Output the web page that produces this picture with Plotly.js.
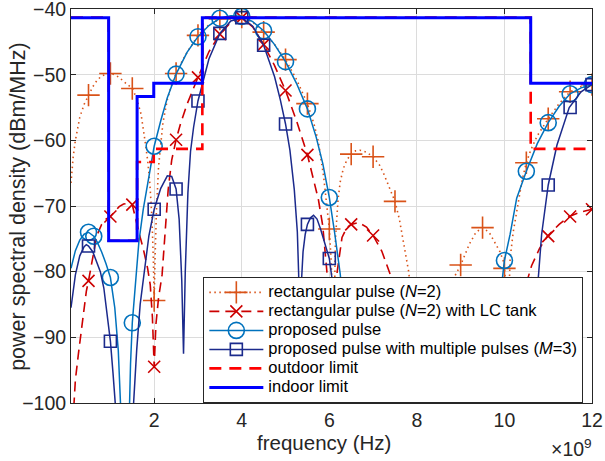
<!DOCTYPE html>
<html>
<head>
<meta charset="utf-8">
<script src="https://cdn.plot.ly/plotly-3.0.1.min.js"></script>
<style>html,body{margin:0;padding:0;background:#fff;}#chart{width:605px;height:461px;}</style>
</head>
<body>
<div id="chart"></div>
<script>
// ---- Data (frequency in GHz, PSD in dBm/MHz) ----
const xTickVals = [2, 4, 6, 8, 10, 12];
const xTickText = ['2', '4', '6', '8', '10', '12'];
const yTickVals = [-100, -90, -80, -70, -60, -50, -40];

// rectangular pulse (N=2)
const rectFreq = [0.1,0.15,0.2,0.3,0.4,0.5,0.6,0.7,0.8,0.9,1.0,1.1,1.2,1.3,1.4,1.5,1.6,1.7,1.8,1.85,1.9,1.95,1.98,2.0,2.02,2.05,2.1,2.15,2.2,2.3,2.4,2.5,2.6,2.75,3.0,3.25,3.5,3.75,4.0,4.25,4.5,4.75,5.0,5.25,5.5,5.65,5.75,5.87,5.95,6.0,6.04,6.07,6.09,6.11,6.14,6.2,6.25,6.32,6.4,6.5,6.6,6.7,6.85,7.0,7.15,7.25,7.4,7.5,7.6,7.7,7.81,7.9,8.0,8.1,8.2,8.3,8.45,8.6,8.8,9.0,9.2,9.35,9.5,9.65,9.8,9.9,9.98,10.0,10.03,10.07,10.1,10.13,10.2,10.28,10.4,10.5,10.6,10.75,11.0,11.25,11.5,11.75,12.0];
const rectPsd  = [-66.5,-62.5,-60,-56.5,-54.5,-53.1,-51.8,-50.8,-50.2,-49.9,-49.8,-50.0,-50.4,-51.0,-51.5,-52.1,-53.6,-56.0,-60.5,-63,-66.5,-72,-78,-84.4,-78,-71,-64,-60,-57.3,-53.8,-51.5,-49.8,-48.4,-46.6,-44.0,-42.4,-41.5,-41.2,-41.2,-42.0,-43.5,-45.4,-47.7,-50.7,-54.4,-57.5,-60.2,-65.5,-70,-73.5,-78,-84,-95,-84,-75,-69,-66.3,-64.3,-63.0,-62.1,-61.6,-61.5,-61.8,-62.5,-63.8,-65.2,-67.5,-69.3,-72,-75.5,-79.9,-85,-92,-102,-108,-98,-90,-85.5,-81.5,-79.0,-75.8,-74.0,-73.3,-74.0,-75.8,-77,-78.5,-79.5,-82,-92,-84,-78,-74,-70.8,-66.2,-63.4,-61.5,-59.3,-56.7,-54.4,-52.6,-51.8,-51.5];
const rectMarkFreq = [0.5,1.0,1.5,2.0,2.5,3.0,3.5,4.0,4.5,5.0,5.5,6.0,6.5,7.0,7.5,8.0,8.5,9.0,9.5,10.0,10.5,11.0,11.5,12.0];
const rectMarkPsd  = [-53.1,-49.8,-52.1,-84.4,-49.8,-44.0,-41.5,-41.2,-43.5,-47.7,-54.4,-73.5,-62.1,-62.5,-69.3,-92,-88,-79.0,-73.3,-79.5,-63.4,-56.7,-52.6,-51.5];

// rectangular pulse (N=2) with LC tank
const lcFreq = [0.1,0.16,0.2,0.27,0.33,0.39,0.45,0.5,0.6,0.69,0.8,0.9,1.0,1.1,1.2,1.3,1.4,1.5,1.57,1.65,1.75,1.85,1.91,1.96,2.0,2.04,2.1,2.18,2.25,2.32,2.4,2.5,2.6,2.75,3.0,3.25,3.5,3.75,4.0,4.25,4.5,4.75,5.0,5.25,5.5,5.6,5.75,5.85,5.95,6.0,6.03,6.1,6.18,6.29,6.4,6.5,6.67,6.85,7.0,7.2,7.39,7.6,7.8,7.9,8.1,8.3,8.5,8.7,8.85,9.0,9.2,9.5,9.7,9.9,10.2,10.45,10.5,10.62,10.8,10.98,11.25,11.48,11.75,12.0];
const lcPsd  = [-108,-99.8,-96.5,-92.5,-89,-86,-83,-81.4,-77.5,-74.5,-72.8,-72,-71.6,-70.8,-70.1,-69.7,-69.6,-69.8,-72.0,-74,-76.5,-79.5,-82,-87,-94.5,-88,-84,-80.5,-74,-67.5,-63,-59.9,-57.5,-54.5,-50.4,-46.5,-43.8,-42.0,-41.3,-42.7,-45.4,-48.6,-52.4,-57.0,-62.2,-64.8,-69.0,-73,-80.4,-88,-105,-88,-80,-74.8,-73.3,-72.8,-72.5,-73.2,-74.5,-76.9,-80.4,-88,-98,-108,-100,-94,-92,-95,-100,-108,-104,-108,-110,-100,-89,-82.5,-81.8,-79.1,-76.5,-74.6,-72.8,-71.6,-70.9,-70.5];
const lcMarkFreq = [0.5,1.0,1.5,2.0,2.5,3.0,3.5,4.0,4.5,5.0,5.5,6.0,6.5,7.0,7.5,8.0,8.5,9.0,9.5,10.0,10.5,11.0,11.5,12.0];
const lcMarkPsd  = [-81.4,-71.6,-69.8,-94.5,-59.9,-50.4,-43.8,-41.3,-45.4,-52.4,-62.2,-88,-72.8,-74.5,-84,-104,-92,-108,-108,-96,-81.8,-74.6,-71.6,-70.5];

// proposed pulse
const propFreq = [0.1,0.2,0.3,0.4,0.5,0.62,0.7,0.8,0.9,1.0,1.1,1.18,1.23,1.28,1.35,1.42,1.46,1.5,1.57,1.65,1.75,1.85,2.0,2.15,2.3,2.5,2.75,3.0,3.25,3.5,3.75,4.0,4.25,4.5,4.75,5.0,5.25,5.5,5.7,5.85,6.0,6.12,6.25,6.35,6.47,6.55,6.7,6.87,7.1,7.35,7.6,7.85,8.0,8.3,8.6,9.0,9.3,9.6,9.8,9.9,9.95,10.0,10.13,10.28,10.5,10.75,11.0,11.25,11.5,11.75,12.0];
const propPsd  = [-79.5,-76.8,-75.2,-74.3,-74.0,-74.6,-75.5,-77.0,-78.8,-80.9,-85.5,-92,-100,-112,-120,-105,-94,-87.8,-81.4,-75.5,-70.5,-66.5,-60.9,-57,-53.5,-49.9,-46.6,-44.2,-42.5,-41.4,-41.0,-41.1,-41.9,-43.3,-45.4,-48.0,-51.3,-55.2,-59.5,-63.5,-68.7,-74,-80.4,-88,-100,-112,-106,-100,-94,-92,-95,-100,-110,-115,-108,-104,-106,-100,-90,-84,-80.4,-78.3,-74.3,-68.8,-64.7,-60.5,-57.3,-54.8,-52.9,-52.0,-51.5];
const propMarkFreq = [0.5,0.62,1.0,1.5,2.0,2.5,3.0,3.5,4.0,4.5,5.0,5.5,6.0,6.5,7.0,7.5,8.0,8.5,9.0,9.5,10.0,10.5,11.0,11.5,12.0];
const propMarkPsd  = [-74.0,-74.6,-80.9,-87.8,-60.9,-49.9,-44.2,-41.4,-41.1,-43.3,-48.0,-55.2,-68.7,-104,-93,-93,-110,-110,-104,-103,-78.3,-64.7,-57.3,-52.9,-51.5];

// proposed pulse with multiple pulses (M=3)
const multiFreq = [0.1,0.2,0.3,0.4,0.45,0.5,0.6,0.7,0.77,0.85,0.92,1.0,1.06,1.11,1.16,1.25,1.4,1.5,1.53,1.6,1.68,1.76,1.88,2.0,2.15,2.3,2.4,2.5,2.57,2.63,2.67,2.71,2.77,2.83,2.9,3.0,3.25,3.5,3.75,4.0,4.25,4.5,4.75,4.88,5.0,5.1,5.2,5.27,5.3,5.33,5.36,5.4,5.45,5.5,5.57,5.64,5.72,5.8,5.9,6.0,6.06,6.15,6.25,6.37,6.45,6.7,7.07,7.3,7.5,7.7,7.9,8.1,8.5,8.9,9.3,9.7,10.2,10.5,10.65,10.78,10.85,11.0,11.2,11.48,11.75,12.0];
const multiPsd  = [-85.5,-80.5,-77.6,-76.2,-75.9,-76.1,-77.0,-78.6,-80,-82.5,-86,-90.6,-95.5,-100,-110,-125,-120,-108,-100,-92,-85,-80.5,-74.5,-70.5,-67.3,-65.4,-65.5,-67.4,-72,-81.4,-92.5,-80,-68,-61.7,-58.0,-54.0,-47.6,-43.7,-41.8,-41.3,-42.6,-45.5,-50.3,-53.8,-57.5,-61.5,-67.5,-74,-80.4,-95,-82,-77,-74.3,-72.8,-71.8,-71.4,-72,-73.5,-75.8,-78.0,-81,-86,-92,-100,-110,-115,-100,-92,-89,-93,-100,-110,-104,-108,-106,-112,-108,-100,-90,-80.4,-74.3,-66.8,-60.7,-55.0,-52.6,-51.5];
const multiMarkFreq = [0.5,1.0,1.5,2.0,2.5,3.0,3.5,4.0,4.5,5.0,5.5,6.0,6.5,7.0,7.5,8.0,8.5,9.0,9.5,10.0,10.5,11.0,11.5,12.0];
const multiMarkPsd  = [-76.1,-90.6,-108,-70.5,-67.4,-54.0,-43.7,-41.3,-45.5,-57.5,-72.8,-78.0,-110,-100,-89,-110,-104,-107,-110,-110,-100,-66.8,-55.0,-51.5];

// FCC masks
const limitFreq = [0.1, 0.96, 1.61, 1.99, 3.1, 10.6, 12];
const outdoorPsd = [-41.3, -75.3, -63.3, -61.3, -41.3, -61.3, -61.3];
const indoorPsd  = [-41.3, -75.3, -53.3, -51.3, -41.3, -51.3, -51.3];

const legendNames = [
  'rectangular pulse (<i>N</i>=2)',
  'rectangular pulse (<i>N</i>=2) with LC tank',
  'proposed pulse',
  'proposed pulse with multiple pulses (<i>M</i>=3)',
  'outdoor limit',
  'indoor limit'
];
const xTitle = 'frequency (Hz)';
const yTitle = 'power spectral density (dBm/MHz)';
const xExponent = '×10<sup>9</sup>';

// ---- Styles ----
const FONT = 'Liberation Sans, Arial, Helvetica, sans-serif';
const cRect = '#D95319', cLC = '#CC0000', cProp = '#0072BD', cMulti = '#1B2A8C';
const big = s => '<span style="font-size:16.5px">' + s + '</span>';

function lineTrace(x, y, color, dash, width) {
  return {x: x, y: y, type: 'scatter', mode: 'lines', showlegend: false, hoverinfo: 'skip',
          line: {color: color, dash: dash, width: width}};
}
function markTrace(x, y, color, symbol, size) {
  return {x: x, y: y, type: 'scatter', mode: 'markers', showlegend: false, hoverinfo: 'skip',
          marker: {symbol: symbol, size: size, color: color, line: {color: color, width: 1.6}}};
}
function legendTrace(name, color, dash, width, symbol, size, rank) {
  return {x: [null], y: [null], type: 'scatter', mode: 'lines+markers', name: big(name), legendrank: rank,
          line: {color: color, dash: dash, width: width},
          marker: {symbol: symbol, size: size, color: color, line: {color: color, width: 1.6}}};
}

const dashLC = '10px,6px';
const dotRect = '1.5px,3.5px';

const traces = [
  lineTrace(rectFreq, rectPsd, cRect, dotRect, 1.6),
  markTrace(rectMarkFreq, rectMarkPsd, cRect, 'cross-thin', 16),
  lineTrace(lcFreq, lcPsd, cLC, dashLC, 1.6),
  markTrace(lcMarkFreq, lcMarkPsd, cLC, 'x-thin', 12),
  lineTrace(propFreq, propPsd, cProp, 'solid', 1.5),
  markTrace(propMarkFreq, propMarkPsd, cProp, 'circle-open', 16),
  lineTrace(multiFreq, multiPsd, cMulti, 'solid', 1.5),
  markTrace(multiMarkFreq, multiMarkPsd, cMulti, 'square-open', 12),
  {x: limitFreq, y: outdoorPsd, type: 'scatter', mode: 'lines', name: big(legendNames[4]), legendrank: 5,
   line: {color: '#FF0000', dash: '12px,8px', width: 2.6, shape: 'hv'}},
  {x: limitFreq, y: indoorPsd, type: 'scatter', mode: 'lines', name: big(legendNames[5]), legendrank: 6,
   line: {color: '#0000FF', width: 3, shape: 'hv'}},
  legendTrace(legendNames[0], cRect, dotRect, 1.6, 'cross-thin', 16, 1),
  legendTrace(legendNames[1], cLC, dashLC, 1.6, 'x-thin', 12, 2),
  legendTrace(legendNames[2], cProp, 'solid', 1.5, 'circle-open', 16, 3),
  legendTrace(legendNames[3], cMulti, 'solid', 1.5, 'square-open', 12, 4)
];

const axisCommon = {
  showline: true, mirror: 'ticks', linecolor: '#262626', linewidth: 1,
  ticks: 'inside', ticklen: 5, tickcolor: '#262626', tickwidth: 1,
  showgrid: true, gridcolor: '#DCDCDC', gridwidth: 1, zeroline: false,
  ticklabeloverflow: 'allow',
  tickfont: {family: FONT, size: 19.5, color: '#262626'}
};

const layout = {
  width: 605, height: 461,
  margin: {l: 71, r: 13, t: 9, b: 58},
  paper_bgcolor: '#FFFFFF', plot_bgcolor: '#FFFFFF',
  showlegend: true,
  xaxis: Object.assign({}, axisCommon, {
    range: [0.1, 12], tickvals: xTickVals, ticktext: xTickText
  }),
  yaxis: Object.assign({}, axisCommon, {
    range: [-100.02, -39.98], tickvals: yTickVals
  }),
  legend: {
    x: 0.254, y: 0.32, xanchor: 'left', yanchor: 'top',
    bgcolor: '#FFFFFF', bordercolor: '#262626', borderwidth: 1,
    font: {family: FONT, size: 12, color: '#000000'},
    itemwidth: 54, tracegroupgap: 0
  },
  annotations: [
    {xref: 'paper', yref: 'paper', x: 0.485, y: -0.1, xanchor: 'center', yanchor: 'middle',
     text: xTitle, showarrow: false, font: {family: FONT, size: 20.5, color: '#262626'}},
    {xref: 'paper', yref: 'paper', x: -0.102, y: 0.5, xanchor: 'center', yanchor: 'middle',
     text: yTitle, textangle: -90, showarrow: false, font: {family: FONT, size: 21.5, color: '#262626'}},
    {xref: 'paper', yref: 'paper', x: 1.004, y: -0.115, xanchor: 'right', yanchor: 'middle',
     text: xExponent, showarrow: false, font: {family: FONT, size: 19.5, color: '#262626'}}
  ]
};

Plotly.newPlot('chart', traces, layout, {staticPlot: true, displayModeBar: false});
</script>
</body>
</html>
